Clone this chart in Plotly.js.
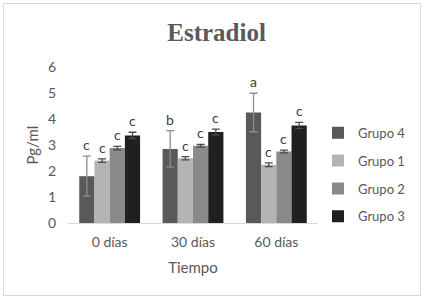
<!DOCTYPE html>
<html>
<head>
<meta charset="utf-8">
<script src="https://cdn.plot.ly/plotly-3.0.1.min.js"></script>
<style>
html,body{margin:0;padding:0;background:#fff;}
#wrap{position:relative;width:423px;height:299px;}
#chart{width:423px;height:299px;}
#frame{position:absolute;left:3px;top:3px;width:416px;height:291px;border:1px solid #d9d9d9;pointer-events:none;}
</style>
</head>
<body>
<div id="wrap"><div id="chart"></div><div id="frame"></div></div>
<script>
const categories = ["0 días", "30 días", "60 días"];
const seriesNames = ["Grupo 4", "Grupo 1", "Grupo 2", "Grupo 3"];
const grupo4 = [1.8, 2.85, 4.25];
const grupo1 = [2.4, 2.49, 2.24];
const grupo2 = [2.88, 2.97, 2.75];
const grupo3 = [3.37, 3.5, 3.75];
const err4 = [0.77, 0.7, 0.74];
const err1 = [0.07, 0.06, 0.07];
const err2 = [0.07, 0.05, 0.05];
const err3 = [0.12, 0.11, 0.12];
const letters4 = ["c", "b", "a"];
const letters1 = ["c", "c", "c"];
const letters2 = ["c", "c", "c"];
const letters3 = ["c", "c", "c"];

const values = [grupo4, grupo1, grupo2, grupo3];
const errors = [err4, err1, err2, err3];
const letters = [letters4, letters1, letters2, letters3];
const colors = ["#595959", "#b4b4b4", "#8a8a8a", "#202020"];
const errColors = ["#8c8c8c", "#4a4a4a", "#4a4a4a", "#4a4a4a"];
const bargap = 0.27;
const font = "Lato, 'Open Sans', sans-serif";

const traces = values.map((v, i) => ({
  type: "bar",
  name: seriesNames[i],
  x: categories,
  y: v,
  marker: {color: colors[i], line: {width: 0}},
  error_y: {type: "data", array: errors[i], visible: true, color: errColors[i], thickness: 1.3, width: 4},
  legendgroup: "g" + i
}));

const annotations = [];
const groupW = 1 - bargap;
const barW = groupW / values.length;
values.forEach((v, i) => {
  v.forEach((val, j) => {
    annotations.push({
      x: j - groupW / 2 + (i + 0.5) * barW,
      y: val + errors[i][j],
      xref: "x", yref: "y",
      text: letters[i][j],
      showarrow: false,
      yanchor: "bottom",
      yshift: 1,
      font: {family: font, size: 14, color: "#404040"}
    });
  });
});

const layout = {
  width: 423, height: 299,
  margin: {l: 68, r: 103, t: 67, b: 76},
  paper_bgcolor: "#fff", plot_bgcolor: "#fff",
  barmode: "group",
  bargap: bargap,
  bargroupgap: 0,
  title: {text: "<b>Estradiol</b>", x: 0.512, xref: "container", xanchor: "center", y: 0.893, yanchor: "middle",
          font: {family: "'Liberation Serif', 'Times New Roman', serif", size: 25, color: "#595959"}},
  xaxis: {
    type: "category",
    showline: true, linecolor: "#d9d9d9", linewidth: 1,
    ticks: "", showgrid: false,
    ticklabelstandoff: 6,
    tickfont: {family: font, size: 14, color: "#595959"},
    title: {text: "Tiempo", font: {family: font, size: 15, color: "#595959"}, standoff: 13}
  },
  yaxis: {
    range: [0, 6], dtick: 1,
    showgrid: false, zeroline: false, showline: false, ticks: "",
    tickfont: {family: font, size: 14, color: "#595959"},
    ticklabelstandoff: 11,
    title: {text: "Pg/ml", font: {family: font, size: 15, color: "#595959"}, standoff: 5}
  },
  legend: {
    x: 1.0, xanchor: "left", y: 0.675, yanchor: "top",
    traceorder: "grouped", tracegroupgap: 8,
    font: {family: font, size: 13, color: "#595959"},
    itemwidth: 30
  },
  annotations: annotations
};

Plotly.newPlot("chart", traces, layout, {displayModeBar: false, staticPlot: true});
</script>
</body>
</html>
